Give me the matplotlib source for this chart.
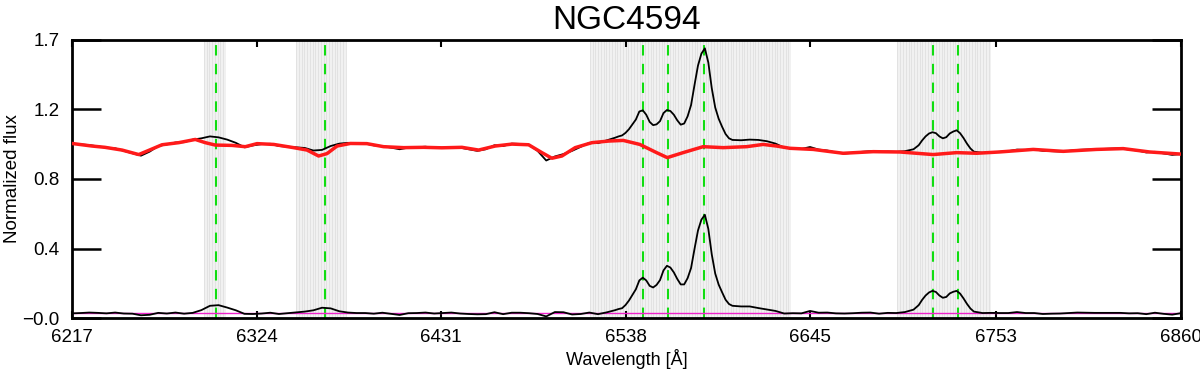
import numpy as np
import matplotlib
matplotlib.use("Agg")
import matplotlib.pyplot as plt

plt.rcParams['font.family'] = ['Liberation Sans', 'DejaVu Sans']

title = "NGC4594"
xlabel = "Wavelength [Å]"
ylabel = "Normalized flux"

# x / y ticks (IDL-style: equally spaced, truncated labels)
x_ticks = [6217, 6324, 6431, 6538, 6645, 6753, 6860]
x_ticklabels = ["6217", "6324", "6431", "6538", "6645", "6753", "6860"]
y_range = (-0.03, 1.70)
y_ticklabels = ["\u22120.0", "0.4", "0.8", "1.2", "1.7"]

# masked (emission-line) windows, Angstrom
mask_windows = [(6293.5, 6306.1), (6346.9, 6375.7), (6517.3, 6633.7), (6695.7, 6749.8)]
# emission line positions
line_centers = [6300.3, 6363.8, 6548.0, 6562.8, 6583.4, 6716.4, 6730.8]

# best-fit stellar model (red)
model_wave = [6217, 6228.6, 6236.1, 6246.0, 6255.7, 6261.5, 6269.2, 6278.9, 6288.5, 6294.3,
              6300.1, 6309.8, 6317.5, 6324.3, 6334.0, 6345.5, 6353.3, 6360.0, 6364.9, 6370.7,
              6378.4, 6388.0, 6397.7, 6409.3, 6420.9, 6431.5, 6443.1, 6452.8, 6462.4, 6472.1,
              6481.8, 6489.5, 6495.3, 6501.1, 6508.8, 6518.5, 6528.2, 6536.7, 6546.3, 6556.0,
              6562.2, 6571.4, 6583.0, 6594.6, 6608.2, 6617.8, 6625.6, 6633.3, 6646.8, 6664.2,
              6681.6, 6697.1, 6716.4, 6730.0, 6741.6, 6754.7, 6774.4, 6791.8, 6811.1, 6826.6,
              6842.0, 6860.0]
model_flux = [1.056, 1.040, 1.032, 1.015, 0.987, 1.013, 1.048, 1.061, 1.081, 1.061,
              1.046, 1.044, 1.036, 1.055, 1.050, 1.030, 1.015, 0.978, 0.993, 1.040,
              1.056, 1.055, 1.036, 1.030, 1.032, 1.029, 1.032, 1.015, 1.040, 1.052,
              1.048, 0.999, 0.964, 0.978, 1.030, 1.061, 1.071, 1.075, 1.050, 0.999,
              0.968, 0.999, 1.036, 1.030, 1.036, 1.050, 1.040, 1.026, 1.019, 0.995,
              1.005, 1.003, 0.987, 0.999, 0.995, 1.003, 1.019, 1.007, 1.019, 1.024,
              1.003, 0.990]

# observed spectrum (black) and residual (black, bottom)
obs_wave = [6217, 6222, 6227, 6232, 6237, 6242, 6247, 6252, 6257, 6262,
            6267, 6272, 6277, 6282, 6287, 6292, 6297, 6302, 6307, 6312,
            6317, 6322, 6327, 6332, 6337, 6342, 6347, 6352, 6357, 6362,
            6367, 6372, 6377, 6382, 6387, 6392, 6397, 6402, 6407, 6412,
            6417, 6422, 6427, 6432, 6437, 6442, 6447, 6452, 6457, 6462,
            6467, 6472, 6477, 6482, 6487, 6492, 6497, 6502, 6507, 6512,
            6517, 6522, 6527, 6532,
            6534, 6536, 6538, 6540, 6542, 6544, 6546, 6548, 6550, 6552,
            6554, 6556, 6558, 6560, 6562, 6564, 6566, 6568, 6570, 6572,
            6574, 6576, 6578, 6580, 6582, 6584, 6586, 6588, 6590, 6592,
            6594, 6596, 6598, 6600,
            6605, 6610, 6615, 6620, 6625, 6630, 6635, 6640, 6645, 6650,
            6655, 6660, 6665, 6670, 6675, 6680, 6685, 6690, 6695, 6700, 6705,
            6708, 6710, 6712, 6714, 6716, 6718, 6720, 6722, 6724, 6726,
            6728, 6730, 6732, 6734, 6736, 6738, 6740,
            6745, 6750, 6755, 6760, 6765, 6770, 6775, 6780, 6785, 6790,
            6795, 6800, 6805, 6810, 6815, 6820, 6825, 6830, 6835, 6840,
            6845, 6850, 6855, 6860]
obs_flux = [1.055, 1.050, 1.046, 1.038, 1.030, 1.026, 1.010, 0.995, 0.980, 1.005,
            1.040, 1.050, 1.062, 1.064, 1.080, 1.088, 1.100, 1.094, 1.080, 1.060,
            1.032, 1.044, 1.052, 1.054, 1.040, 1.036, 1.032, 1.028, 1.012, 1.016,
            1.040, 1.055, 1.060, 1.057, 1.056, 1.044, 1.040, 1.030, 1.020, 1.030,
            1.032, 1.036, 1.028, 1.030, 1.034, 1.030, 1.020, 1.010, 1.020, 1.045,
            1.040, 1.055, 1.053, 1.047, 1.010, 0.950, 0.975, 0.990, 1.010, 1.035,
            1.060, 1.058, 1.075, 1.092,
            1.100, 1.106, 1.122, 1.145, 1.175, 1.205, 1.255, 1.262, 1.235, 1.190,
            1.170, 1.175, 1.195, 1.245, 1.264, 1.258, 1.235, 1.200, 1.173, 1.180,
            1.225, 1.295, 1.420, 1.540, 1.615, 1.648, 1.560, 1.400, 1.280, 1.210,
            1.160, 1.115, 1.088, 1.078,
            1.076, 1.080, 1.078, 1.070, 1.055, 1.030, 1.025, 1.022, 1.034, 1.018,
            1.012, 1.000, 0.993, 0.998, 1.004, 1.008, 1.002, 1.006, 1.004, 1.008, 1.020,
            1.045, 1.075, 1.100, 1.118, 1.126, 1.120, 1.100, 1.088, 1.095, 1.118,
            1.130, 1.138, 1.120, 1.090, 1.055, 1.025, 1.005,
            0.998, 1.002, 1.004, 1.008, 1.018, 1.016, 1.020, 1.010, 1.008, 1.006,
            1.010, 1.016, 1.018, 1.020, 1.022, 1.024, 1.026, 1.018, 1.012, 1.000,
            1.004, 0.994, 0.985, 0.990]
residual = [-0.001, 0.001, 0.004, 0.002, -0.001, 0.004, -0.002, -0.003, -0.013, -0.010,
            0.002, -0.002, 0.004, -0.003, 0.002, 0.019, 0.046, 0.050, 0.035, 0.018,
            -0.004, -0.005, -0.002, 0.003, -0.005, 0.000, 0.005, 0.010, 0.018, 0.034,
            0.030, 0.012, 0.004, 0.001, 0.001, -0.003, 0.003, -0.004, -0.011, 0.000,
            0.001, 0.004, -0.002, 0.001, 0.004, -0.002, -0.005, -0.007, -0.006, 0.006,
            -0.006, 0.003, 0.003, 0.000, -0.005, -0.020, 0.007, 0.006, -0.008, -0.005,
            0.004, -0.006, 0.005, 0.019,
            0.026, 0.031, 0.051, 0.079, 0.114, 0.149, 0.204, 0.221, 0.204, 0.170,
            0.160, 0.176, 0.206, 0.266, 0.295, 0.284, 0.254, 0.213, 0.179, 0.179,
            0.218, 0.281, 0.400, 0.514, 0.582, 0.612, 0.525, 0.366, 0.247, 0.178,
            0.130, 0.084, 0.057, 0.046,
            0.042, 0.042, 0.032, 0.023, 0.014, -0.002, 0.000, -0.001, 0.014, 0.003,
            0.004, -0.001, -0.002, 0.000, 0.003, 0.004, -0.003, 0.002, 0.001, 0.007, 0.022,
            0.050, 0.083, 0.110, 0.129, 0.139, 0.132, 0.110, 0.096, 0.101, 0.123,
            0.133, 0.139, 0.122, 0.092, 0.058, 0.029, 0.010,
            0.001, 0.002, 0.001, 0.001, 0.007, 0.001, 0.001, -0.005, -0.003, -0.002,
            0.001, 0.004, 0.003, 0.002, 0.002, 0.002, 0.002, -0.001, 0.000, -0.006,
            0.003, -0.004, -0.009, 0.000]

fig = plt.figure(figsize=(12, 3.7), dpi=100)
ax = fig.add_axes([0.06, 0.1405, 0.924, 0.7515])

# masked windows: light grey hatched by thin vertical lines
for lo, hi in mask_windows:
    ax.axvspan(lo, hi, facecolor='#f1f1f1', edgecolor='none', zorder=0)
    ax.vlines(np.arange(lo, hi, 1.6), y_range[0], y_range[1], colors='#dcdcdc',
              linewidth=0.5, zorder=0.5)

for lc in line_centers:
    ax.axvline(lc, color='#11dd11', lw=1.5, linestyle=(0, (5, 4)), zorder=1)

ax.axhline(0.0, color='#ee22cc', lw=1.0, zorder=2)
ax.plot(obs_wave, obs_flux, color='black', lw=1.3, zorder=3)
ax.plot(model_wave, model_flux, color='#ff1a1a', lw=2.5, zorder=4)
ax.plot(obs_wave, residual, color='black', lw=1.3, zorder=3)

ax.set_xlim(x_ticks[0], x_ticks[-1])
ax.set_ylim(*y_range)
ax.set_xticks(x_ticks)
ax.set_xticklabels(x_ticklabels)
ax.set_yticks(np.linspace(y_range[0], y_range[1], len(y_ticklabels)))
ax.set_yticklabels(y_ticklabels)

ax.tick_params(axis='x', direction='in', length=5, width=1.5, top=True,
               labelsize=13.5, pad=8)
ax.tick_params(axis='y', direction='in', length=21, width=1.8, right=True,
               labelsize=13.5, pad=9)
for s in ax.spines.values():
    s.set_linewidth(2.0)

ax.set_title(title, fontsize=24, pad=8)
ax.set_xlabel(xlabel, fontsize=13, labelpad=2)
ax.set_ylabel(ylabel, fontsize=13.5)
ax.yaxis.set_label_coords(-0.046, 0.5)

fig.savefig("out.png", dpi=100)
